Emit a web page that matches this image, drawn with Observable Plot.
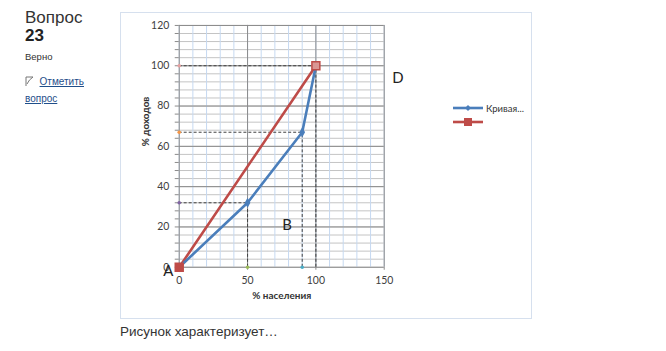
<!DOCTYPE html>
<html>
<head>
<meta charset="utf-8">
<script src="https://cdn.jsdelivr.net/npm/d3@7"></script>
<script src="https://cdn.jsdelivr.net/npm/@observablehq/plot@0.6"></script>
<style>
  body { margin: 0; background: #fff; font-family: "Liberation Sans", Arial, sans-serif; color: #333; width: 666px; height: 351px; position: relative; overflow: hidden; }
  .abs { position: absolute; white-space: nowrap; }
  #q { left: 25px; top: 9px; font-size: 17px; line-height: 18px; color: #333; }
  #num { left: 25px; top: 27px; font-size: 17px; font-weight: bold; line-height: 18px; color: #222; }
  #ok { left: 25px; top: 51px; font-size: 9.5px; color: #333; }
  #flag { left: 25px; top: 73px; font-size: 10px; color: #333; line-height: 17px; }
  #flag a { color: #1f4e8a; text-decoration: underline; }
  #chartbox { left: 120px; top: 12px; width: 410px; height: 305px; border: 1px solid #d6e0ee; }
  #chartbox svg { position: absolute; left: 0; top: 0; }
  #legend { left: 453px; top: 101px; font-family: Lato, "Open Sans", sans-serif; font-size: 9.5px; color: #333; }
  #caption { left: 120px; top: 324px; font-size: 13.5px; color: #333; }
</style>
</head>
<body>
<div class="abs" id="q">Вопрос</div>
<div class="abs" id="num">23</div>
<div class="abs" id="ok">Верно</div>
<div class="abs" id="flag"><svg width="9" height="10" style="vertical-align:-1px"><path d="M1 1 L8 1 L4.5 4 L2 8" fill="none" stroke="#777" stroke-width="1"/><path d="M1 1 L1 10" stroke="#777"/></svg>&nbsp;&nbsp;<a>Отметить</a><br><a>вопрос</a></div>
<div class="abs" id="chartbox"></div>
<div class="abs" id="legend"></div>
<div class="abs" id="caption">Рисунок характеризует…</div>
<script>
// ---- data ----
const lorenzX = [0, 50, 90, 100];
const lorenzY = [0, 32, 67, 100];
const equalX = [0, 100];
const equalY = [0, 100];
const seriesNames = ["Кривая...", ""];
const xTicks = [0, 50, 100, 150];
const yTicks = [0, 20, 40, 60, 80, 100, 120];
const xMinor = [0, 10, 20, 30, 40, 50, 60, 70, 80, 90, 100, 110, 120, 130, 140, 150];
const yMinor = [0, 4, 8, 12, 16, 20, 24, 28, 32, 36, 40, 44, 48, 52, 56, 60, 64, 68, 72, 76, 80, 84, 88, 92, 96, 100, 104, 108, 112, 116, 120];
const guideColors = ["#8064a2", "#f79646", "#e6a0a0"];
const guideColorsX = ["#9bbb59", "#4bacc6", "none"];
const pointLabels = ["A", "B", "D"];
const pointLabelX = [-8, 79, 160];
const pointLabelY = [-2, 21, 94];

const blue = "#4a7ebb", red = "#be4b48";
const lorenz = lorenzX.map((x, i) => ({x, y: lorenzY[i]}));
const equal = equalX.map((x, i) => ({x, y: equalY[i]}));
const guides = lorenz.slice(1).map((d, i) => ({...d, cy: guideColors[i], cx: guideColorsX[i]}));
const labels = pointLabels.map((t, i) => ({t, x: pointLabelX[i], y: pointLabelY[i]}));

const chart = Plot.plot({
  width: 412, height: 307,
  marginLeft: 58, marginRight: 148, marginTop: 12, marginBottom: 52,
  x: {domain: [0, 150]},
  y: {domain: [0, 120]},
  style: {fontFamily: "Lato, 'Open Sans', sans-serif", background: "transparent", overflow: "visible"},
  marks: [
    Plot.ruleY(yMinor, {stroke: "#c4c4c4", strokeWidth: 1}),
    Plot.ruleX(xMinor, {stroke: "#c6d9f1", strokeWidth: 1}),
    Plot.ruleY(yTicks, {stroke: "#8a8a8a", strokeWidth: 1}),
    Plot.ruleX(xTicks, {stroke: "#8a8a8a", strokeWidth: 1}),
    Plot.axisY({ticks: yMinor, tickSize: 4, tickFormat: () => "", label: null, stroke: "#8a8a8a"}),
    Plot.axisY({ticks: yTicks, tickSize: 0, tickPadding: 10, label: null, fontSize: 10.5, fill: "#404040"}),
    Plot.axisX({ticks: xTicks, tickSize: 3, tickPadding: 6, label: null, fontSize: 10.5, fill: "#404040", stroke: "#8a8a8a"}),
    Plot.ruleY(guides, {y: "y", x1: 0, x2: "x", stroke: "#404040", strokeWidth: 1, strokeDasharray: "3,2"}),
    Plot.ruleX(guides, {x: "x", y1: 0, y2: "y", stroke: "#404040", strokeWidth: 1, strokeDasharray: "3,2"}),
    Plot.dot(guides, {x: 0, y: "y", r: 1.8, fill: "cy", stroke: null}),
    Plot.dot(guides, {x: "x", y: 0, r: 1.8, fill: "cx", stroke: null}),
    Plot.line(equal, {x: "x", y: "y", stroke: red, strokeWidth: 2.6}),
    Plot.line(lorenz, {x: "x", y: "y", stroke: blue, strokeWidth: 2.6}),
    Plot.dot(lorenz, {x: "x", y: "y", symbol: "diamond", r: 3, fill: blue, stroke: null}),
    Plot.dot(equal, {x: "x", y: "y", symbol: "square", r: 4.5, fill: (d, i) => i ? "#d99694" : red, stroke: red, strokeWidth: 1.5}),
    Plot.text(labels, {x: "x", y: "y", text: "t", fontSize: 15, fill: "#222", fontFamily: "Lato, sans-serif"}),
    Plot.text(["% населения"], {frameAnchor: "bottom", dy: 32, text: d => d, fontSize: 10, fontWeight: "bold", fill: "#333"}),
    Plot.text(["% доходов"], {frameAnchor: "left", dx: -34, rotate: -90, text: d => d, fontSize: 10, fontWeight: "bold", fill: "#333"})
  ]
});
document.getElementById("chartbox").appendChild(chart);

// legend
const colors = [blue, red];
const symbols = ["diamond", "square"];
const leg = document.getElementById("legend");
seriesNames.forEach((name, i) => {
  const row = document.createElement("div");
  row.style.cssText = "height:14px;display:flex;align-items:center;";
  const sym = symbols[i] === "diamond"
    ? `<path d="M15 3 L18 6 L15 9 L12 6 Z" fill="${colors[i]}"/>`
    : `<rect x="11" y="2" width="8" height="8" fill="${colors[i]}"/>`;
  row.innerHTML = `<svg width="31" height="12"><line x1="0" x2="30" y1="6" y2="6" stroke="${colors[i]}" stroke-width="2.6"/>${sym}</svg><span style="margin-left:2px">${name}</span>`;
  leg.appendChild(row);
});
</script>
</body>
</html>
